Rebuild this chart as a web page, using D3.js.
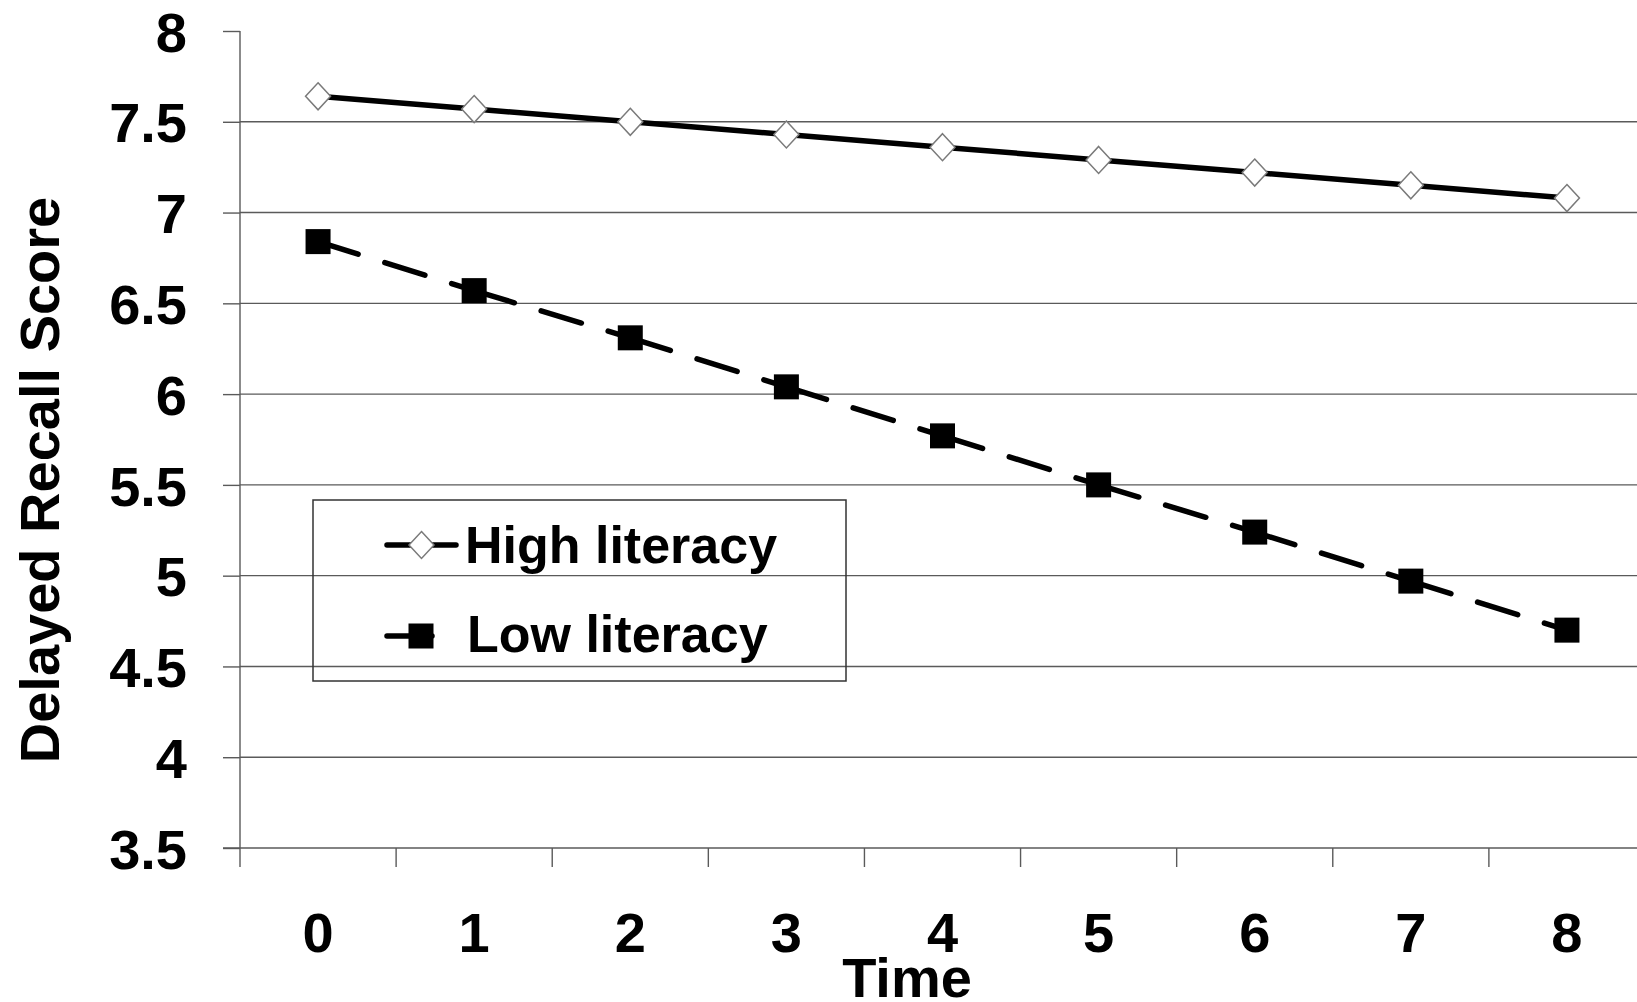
<!DOCTYPE html>
<html lang="en">
  <head>
    <meta charset="UTF-8" />
    <title>Delayed Recall Score by Time</title>
    <script src="https://d3js.org/d3.v7.min.js"></script>
    <style>
      body {
        margin: 0;
        background: #fff;
      }
      svg {
        display: block;
        font-family: "Liberation Sans", Arial, sans-serif;
        font-weight: bold;
      }
      .grid line {
        stroke: #5a5a5a;
        stroke-width: 1.4px;
      }
      .tick-label {
        font-size: 56px;
        fill: #000;
      }
    </style>
  </head>
  <body>
    <div id="chart"></div>
    <script>
      const times = [0, 1, 2, 3, 4, 5, 6, 7, 8];
      const highLiteracy = [7.64, 7.57, 7.5, 7.43, 7.36, 7.29, 7.22, 7.15, 7.08];
      const lowLiteracy = [6.84, 6.57, 6.31, 6.04, 5.77, 5.5, 5.24, 4.97, 4.7];
      const yTicks = [3.5, 4, 4.5, 5, 5.5, 6, 6.5, 7, 7.5, 8];
      const seriesNames = ["High literacy", "Low literacy"];

      const width = 1637,
        height = 1002;
      const plotLeft = 240,
        plotRight = 1645,
        plotTop = 31,
        plotBottom = 848;

      const svg = d3
        .select("#chart")
        .append("svg")
        .attr("width", width)
        .attr("height", height);

      const x = d3.scaleBand().domain(times).range([plotLeft, plotRight]).padding(0);
      const y = d3.scaleLinear().domain([3.5, 8]).range([plotBottom, plotTop]);
      const cx = (t) => x(t) + x.bandwidth() / 2;

      // 가로 격자선 (맨 위 8 제외)
      svg
        .append("g")
        .attr("class", "grid")
        .selectAll("line")
        .data(yTicks.filter((v) => v > 3.5 && v < 8))
        .enter()
        .append("line")
        .attr("x1", plotLeft)
        .attr("x2", plotRight)
        .attr("y1", (d) => y(d))
        .attr("y2", (d) => y(d));

      // y축
      const yAxis = svg
        .append("g")
        .attr("transform", `translate(${plotLeft},0)`)
        .call(d3.axisLeft(y).tickValues(yTicks).tickSize(17).tickPadding(36).tickFormat(d3.format("")));
      yAxis.select(".domain").remove();
      yAxis.selectAll(".tick line").attr("stroke", "#5a5a5a").attr("stroke-width", 1.4);
      yAxis
        .selectAll(".tick text")
        .attr("class", "tick-label")
        .attr("font-family", null)
        .attr("font-size", null)
        .attr("dy", "0.36em");
      yAxis.attr("font-family", null).attr("font-size", null);
      svg
        .append("line")
        .attr("x1", plotLeft)
        .attr("x2", plotLeft)
        .attr("y1", plotTop)
        .attr("y2", plotBottom + 19)
        .attr("stroke", "#5a5a5a")
        .attr("stroke-width", 1.4);

      // x축
      svg
        .append("line")
        .attr("x1", plotLeft - 17)
        .attr("x2", plotRight)
        .attr("y1", plotBottom)
        .attr("y2", plotBottom)
        .attr("stroke", "#5a5a5a")
        .attr("stroke-width", 1.4);
      svg
        .append("g")
        .selectAll("line")
        .data(times.slice(1))
        .enter()
        .append("line")
        .attr("x1", (d) => x(d))
        .attr("x2", (d) => x(d))
        .attr("y1", plotBottom)
        .attr("y2", plotBottom + 19)
        .attr("stroke", "#5a5a5a")
        .attr("stroke-width", 1.4);
      svg
        .append("g")
        .selectAll("text")
        .data(times)
        .enter()
        .append("text")
        .attr("class", "tick-label")
        .attr("x", (d) => cx(d))
        .attr("y", 952)
        .attr("text-anchor", "middle")
        .text((d) => d);

      // 축 제목
      svg
        .append("text")
        .attr("x", 907)
        .attr("y", 997)
        .attr("text-anchor", "middle")
        .attr("font-size", 56)
        .text("Time");
      svg
        .append("text")
        .attr("transform", "translate(59,480) rotate(-90)")
        .attr("text-anchor", "middle")
        .attr("font-size", 56)
        .text("Delayed Recall Score");

      // Low literacy: 점선, 구간마다 패턴이 새로 시작
      const lowPts = times.map((t, i) => [cx(t), y(lowLiteracy[i])]);
      svg
        .append("g")
        .selectAll("line")
        .data(d3.pairs(lowPts))
        .enter()
        .append("line")
        .attr("x1", (d) => d[0][0])
        .attr("y1", (d) => d[0][1])
        .attr("x2", (d) => d[1][0])
        .attr("y2", (d) => d[1][1])
        .attr("stroke", "#000")
        .attr("stroke-width", 5.5)
        .attr("stroke-linecap", "round")
        .attr("stroke-dasharray", "42 28");

      // High literacy: 실선
      const line = d3
        .line()
        .x((d, i) => cx(times[i]))
        .y((d) => y(d));
      svg
        .append("path")
        .datum(highLiteracy)
        .attr("d", line)
        .attr("fill", "none")
        .attr("stroke", "#000")
        .attr("stroke-width", 5.5);

      const diamond = (px, py) =>
        `M${px},${py - 13.5}L${px + 12.5},${py}L${px},${py + 13.5}L${px - 12.5},${py}Z`;

      svg
        .append("g")
        .selectAll("path")
        .data(highLiteracy)
        .enter()
        .append("path")
        .attr("d", (d, i) => diamond(cx(times[i]), y(d)))
        .attr("fill", "#fff")
        .attr("stroke", "#7a7a7a")
        .attr("stroke-width", 1.5);

      svg
        .append("g")
        .selectAll("rect")
        .data(lowLiteracy)
        .enter()
        .append("rect")
        .attr("x", (d, i) => cx(times[i]) - 12.5)
        .attr("y", (d) => y(d) - 12.5)
        .attr("width", 25)
        .attr("height", 25)
        .attr("fill", "#000");

      // 범례
      const legend = svg.append("g");
      legend
        .append("rect")
        .attr("x", 313)
        .attr("y", 500)
        .attr("width", 533)
        .attr("height", 181)
        .attr("fill", "none")
        .attr("stroke", "#333")
        .attr("stroke-width", 1.5);

      legend
        .append("line")
        .attr("x1", 387)
        .attr("x2", 456)
        .attr("y1", 545)
        .attr("y2", 545)
        .attr("stroke", "#000")
        .attr("stroke-width", 5.5)
        .attr("stroke-linecap", "round");
      legend
        .append("path")
        .attr("d", diamond(421.5, 545))
        .attr("fill", "#fff")
        .attr("stroke", "#7a7a7a")
        .attr("stroke-width", 1.5);

      legend
        .append("line")
        .attr("x1", 387)
        .attr("x2", 432)
        .attr("y1", 636)
        .attr("y2", 636)
        .attr("stroke", "#000")
        .attr("stroke-width", 5.5)
        .attr("stroke-linecap", "round");
      legend
        .append("rect")
        .attr("x", 408.5)
        .attr("y", 623.5)
        .attr("width", 25)
        .attr("height", 25)
        .attr("fill", "#000");

      legend
        .selectAll("text.legend-label")
        .data(seriesNames)
        .enter()
        .append("text")
        .attr("class", "legend-label")
        .attr("x", (d, i) => (i === 0 ? 465 : 467))
        .attr("y", (d, i) => (i === 0 ? 563 : 652))
        .attr("font-size", 52)
        .text((d) => d);
    </script>
  </body>
</html>
